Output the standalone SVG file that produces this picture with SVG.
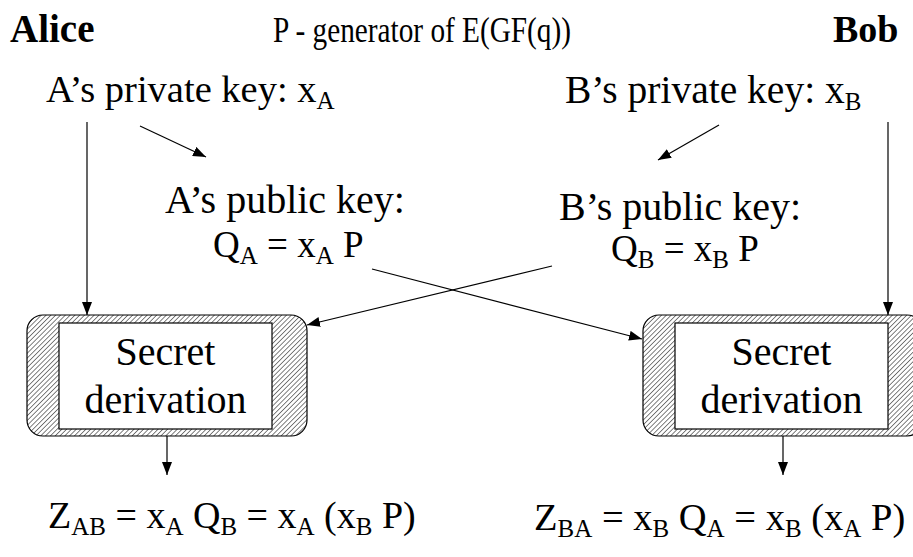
<svg xmlns="http://www.w3.org/2000/svg" width="913" height="557" viewBox="0 0 913 557">
<style>
text{font-family:"Liberation Serif","Times New Roman",Times,serif;fill:#000}
.b{font-weight:bold}
.s37{font-size:37px}
.s38{font-size:38.5px}
.s40{font-size:40px}
.sub{font-size:25px}
.c{stroke:#000;stroke-width:1.2;fill:none;marker-end:url(#ah)}
.outer{fill:url(#hatch);stroke:#000;stroke-width:1.2}
.inner{fill:#fff;stroke:#000;stroke-width:1.2}
</style>
<defs>
<pattern id="hatch" width="3.4" height="3.4" patternUnits="userSpaceOnUse" patternTransform="rotate(45)">
<rect width="3.4" height="3.4" fill="#fff"/>
<line x1="0" y1="0" x2="0" y2="3.4" stroke="#000" stroke-width="1"/>
</pattern>
<marker id="ah" markerUnits="userSpaceOnUse" markerWidth="14" markerHeight="10" refX="13" refY="5" orient="auto">
<path d="M0,0 L13,5 L0,10 z" fill="#000"/>
</marker>
</defs>
<g id="title">
<text class="b" font-size="39" x="10" y="42">Alice</text>
<text font-size="36" x="273" y="42" textLength="298" lengthAdjust="spacingAndGlyphs">P - generator of E(GF(q))</text>
<text class="b" font-size="38" x="833" y="42">Bob</text>
</g>
<g id="a-private">
<text class="s38" x="46" y="102">A’s private key: x<tspan class="sub" dy="7">A</tspan></text>
</g>
<g id="b-private">
<text font-size="39.5" x="565" y="103">B’s private key: x<tspan class="sub" dy="7">B</tspan></text>
</g>
<g id="a-public">
<text class="s40" x="165" y="213">A’s public key:</text>
<text class="s37" x="213" y="257">Q<tspan class="sub" dy="7">A</tspan><tspan dy="-7"> = x</tspan><tspan class="sub" dy="7">A</tspan><tspan dy="-7"> P</tspan></text>
</g>
<g id="b-public">
<text class="s40" x="559" y="220">B’s public key:</text>
<text class="s37" x="611" y="261">Q<tspan class="sub" dy="7">B</tspan><tspan dy="-7"> = x</tspan><tspan class="sub" dy="7">B</tspan><tspan dy="-7"> P</tspan></text>
</g>
<g id="a-secret">
<rect class="outer" x="27" y="315" width="280" height="121" rx="16"/>
<rect class="inner" x="59" y="323" width="213" height="106"/>
<text class="s40" x="165.5" y="365" text-anchor="middle">Secret</text>
<text class="s40" x="165.5" y="413" text-anchor="middle">derivation</text>
</g>
<g id="b-secret">
<rect class="outer" x="643" y="315" width="280" height="121" rx="16"/>
<rect class="inner" x="675" y="323" width="213" height="106"/>
<text class="s40" x="781.5" y="365" text-anchor="middle">Secret</text>
<text class="s40" x="781.5" y="413" text-anchor="middle">derivation</text>
</g>
<g id="z-ab">
<text font-size="38" x="48" y="528">Z<tspan class="sub" dy="7">AB</tspan><tspan dy="-7"> = x</tspan><tspan class="sub" dy="7">A</tspan><tspan dy="-7"> Q</tspan><tspan class="sub" dy="7">B</tspan><tspan dy="-7"> = x</tspan><tspan class="sub" dy="7">A</tspan><tspan dy="-7"> (x</tspan><tspan class="sub" dy="7">B</tspan><tspan dy="-7"> P)</tspan></text>
</g>
<g id="z-ba">
<text font-size="38.5" x="534" y="530">Z<tspan class="sub" dy="7">BA</tspan><tspan dy="-7"> = x</tspan><tspan class="sub" dy="7">B</tspan><tspan dy="-7"> Q</tspan><tspan class="sub" dy="7">A</tspan><tspan dy="-7"> = x</tspan><tspan class="sub" dy="7">B</tspan><tspan dy="-7"> (x</tspan><tspan class="sub" dy="7">A</tspan><tspan dy="-7"> P)</tspan></text>
</g>
<g id="connectors">
<line class="c" x1="87" y1="122" x2="87" y2="315"/>
<line class="c" x1="888" y1="122" x2="888" y2="315"/>
<line class="c" x1="140" y1="126" x2="206" y2="157"/>
<line class="c" x1="719" y1="125" x2="658" y2="160"/>
<line class="c" x1="372" y1="269" x2="642" y2="339"/>
<line class="c" x1="552" y1="266" x2="307" y2="325"/>
<line class="c" x1="167" y1="436" x2="167" y2="475"/>
<line class="c" x1="783" y1="436" x2="783" y2="475"/>
</g>
</svg>
